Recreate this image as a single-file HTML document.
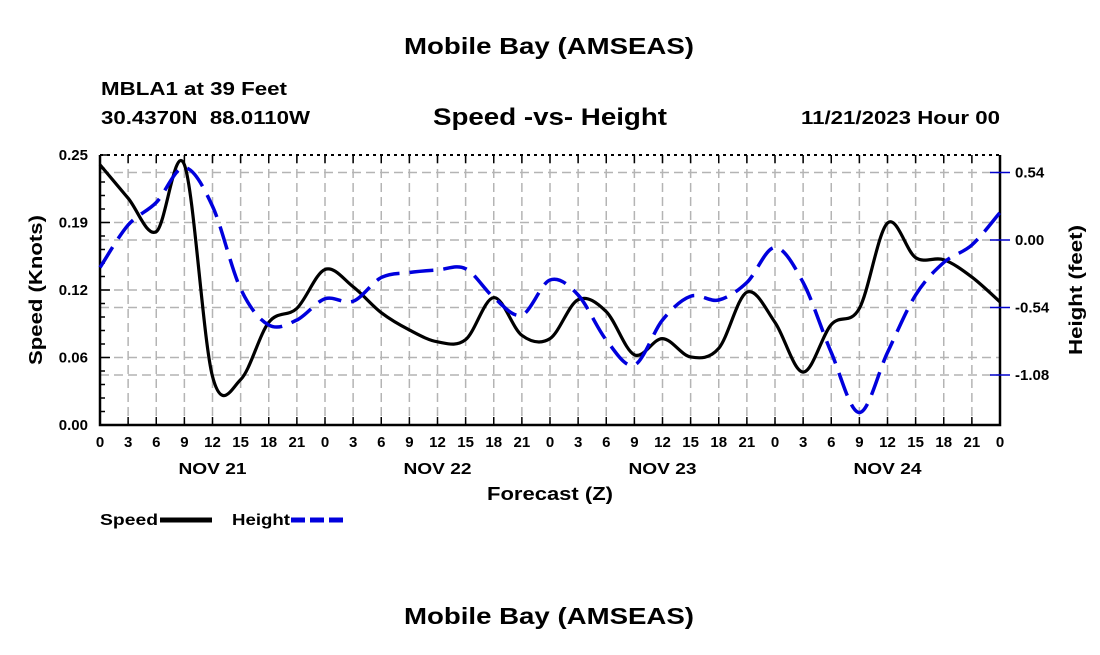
<!DOCTYPE html>
<html><head><meta charset="utf-8">
<style>
html,body{margin:0;padding:0;background:#fff;}
svg text{font-family:"Liberation Sans",Arial,sans-serif;font-weight:bold;fill:#000;}
</style></head>
<body>
<svg width="1100" height="650" viewBox="0 0 1100 650" xmlns="http://www.w3.org/2000/svg">
<rect width="1100" height="650" fill="#fff"/>
<text x="404" y="54" font-size="23" textLength="290" lengthAdjust="spacingAndGlyphs">Mobile Bay (AMSEAS)</text>
<text x="101" y="95" font-size="18" textLength="186" lengthAdjust="spacingAndGlyphs">MBLA1 at 39 Feet</text>
<text x="101" y="124" font-size="18" textLength="209" lengthAdjust="spacingAndGlyphs" xml:space="preserve">30.4370N  88.0110W</text>
<text x="433" y="125" font-size="24" textLength="234" lengthAdjust="spacingAndGlyphs">Speed -vs- Height</text>
<text x="801" y="124" font-size="18" textLength="199" lengthAdjust="spacingAndGlyphs">11/21/2023 Hour 00</text>
<g id="grid"></g>
<g id="axes"></g>
<g id="series"></g>
<text transform="translate(42,290) rotate(-90)" font-size="18" text-anchor="middle" textLength="150" lengthAdjust="spacingAndGlyphs">Speed (Knots)</text>
<text transform="translate(1082,290) rotate(-90)" font-size="18" text-anchor="middle" textLength="130" lengthAdjust="spacingAndGlyphs">Height (feet)</text>
<text x="487" y="500" font-size="18" textLength="126" lengthAdjust="spacingAndGlyphs">Forecast (Z)</text>
<g>
<text x="100" y="525" font-size="16" textLength="58" lengthAdjust="spacingAndGlyphs">Speed</text>
<line x1="160" y1="520" x2="212" y2="520" stroke="#000" stroke-width="5"/>
<text x="232" y="525" font-size="16" textLength="58" lengthAdjust="spacingAndGlyphs">Height</text>
<line x1="291" y1="520" x2="343" y2="520" stroke="#0000dd" stroke-width="5" stroke-dasharray="14,5"/>
</g>
<text x="404" y="624" font-size="23" textLength="290" lengthAdjust="spacingAndGlyphs">Mobile Bay (AMSEAS)</text>
</svg>
<script>
const hours = [0,3,6,9,12,15,18,21,24,27,30,33,36,39,42,45,48,51,54,57,60,63,66,69,72,75,78,81,84,87,90,93,96];
const speedValues = [0.241,0.210,0.179,0.241,0.045,0.042,0.095,0.108,0.144,0.128,0.104,0.088,0.077,0.079,0.118,0.083,0.080,0.116,0.105,0.065,0.080,0.063,0.071,0.123,0.095,0.049,0.093,0.108,0.187,0.155,0.153,0.137,0.114];
const heightValues = [-0.22,0.12,0.30,0.58,0.27,-0.39,-0.68,-0.64,-0.47,-0.49,-0.30,-0.26,-0.24,-0.23,-0.46,-0.60,-0.32,-0.44,-0.80,-1.00,-0.64,-0.45,-0.48,-0.34,-0.06,-0.34,-0.90,-1.38,-0.90,-0.44,-0.18,-0.04,0.22];
const speedTicks = [0,0.0625,0.125,0.1875,0.25];
const speedTickLabels = ["0.00","0.06","0.12","0.19","0.25"];
const heightTicks = [0.54,0,-0.54,-1.08];
const heightTickLabels = ["0.54","0.00","-0.54","-1.08"];
const xTickLabels = ["0","3","6","9","12","15","18","21"];
const dayLabels = ["NOV 21","NOV 22","NOV 23","NOV 24"];

(function(){
const L=100,R=1000,T=155,B=425;
const NS="http://www.w3.org/2000/svg";
function xS(h){return L+(h/96)*(R-L);}
function yS(v){return B-(v/0.25)*(B-T);}
function yH(v){return 240-(v/0.54)*67.5;}
function mk(tag,attrs,parent){const e=document.createElementNS(NS,tag);for(const k in attrs)e.setAttribute(k,attrs[k]);parent.appendChild(e);return e;}
const gridG=document.getElementById('grid'),axesG=document.getElementById('axes'),seriesG=document.getElementById('series');
const gs={stroke:"#b4b4b4","stroke-width":1.5,"stroke-dasharray":"9,5"};
for(let h=3;h<96;h+=3){const l=mk('line',Object.assign({x1:xS(h),x2:xS(h),y1:T,y2:B},gs),gridG);

}
speedTicks.slice(1,-1).forEach(v=>{const l=mk('line',Object.assign({x1:L,x2:R,y1:yS(v),y2:yS(v)},gs),gridG);

});
heightTicks.forEach(v=>{const l=mk('line',Object.assign({x1:L,x2:R,y1:yH(v),y2:yH(v)},gs),gridG);

});
const fr=mk('path',{d:`M${L},${T}V${B}H${R}V${T}`,fill:"none",stroke:"#000","stroke-width":2.5},axesG);


const topAxis=mk('line',{x1:L,x2:R,y1:T,y2:T,stroke:"#000","stroke-width":2,"stroke-dasharray":"3,4"},axesG);


for(let i=0;i<=32;i++){const h=i*3,x=xS(h);
mk('line',{x1:x,x2:x,y1:B,y2:B-8,stroke:"#000","stroke-width":1.5},axesG);
mk('line',{x1:x,x2:x,y1:T,y2:T+8,stroke:"#000","stroke-width":1.5},axesG);
const t=mk('text',{x:x,y:B+22,"font-size":15,"text-anchor":"middle"},axesG);
t.textContent=i===32?"0":xTickLabels[i%8];

}
dayLabels.forEach((d,i)=>{const t=mk('text',{x:xS(12+24*i)-34,y:474,"font-size":16,textLength:68,lengthAdjust:"spacingAndGlyphs"},axesG);
t.textContent=d;

});
for(let i=0;i<=20;i++){const v=i*0.0125,y=yS(v);mk('line',{x1:L,x2:L+(i%5===0?10:5),y1:y,y2:y,stroke:"#000","stroke-width":1.5},axesG);}
speedTicks.forEach((v,i)=>{const t=mk('text',{x:88,y:yS(v)+5,"font-size":15,"text-anchor":"end"},axesG);
t.textContent=speedTickLabels[i];

});
heightTicks.forEach((v,i)=>{mk('line',{x1:R-10,x2:R+10,y1:yH(v),y2:yH(v),stroke:"#0000cc","stroke-width":1.5},axesG);
const t=mk('text',{x:1015,y:yH(v)+5,"font-size":15},axesG);
t.textContent=heightTickLabels[i];

});
function smooth(pts){let d=`M${pts[0][0]},${pts[0][1]}`;
for(let i=0;i<pts.length-1;i++){const p0=pts[Math.max(0,i-1)],p1=pts[i],p2=pts[i+1],p3=pts[Math.min(pts.length-1,i+2)];
const c1=[p1[0]+(p2[0]-p0[0])/6,p1[1]+(p2[1]-p0[1])/6],c2=[p2[0]-(p3[0]-p1[0])/6,p2[1]-(p3[1]-p1[1])/6];
d+=`C${c1[0]},${c1[1]} ${c2[0]},${c2[1]} ${p2[0]},${p2[1]}`;}return d;}
const sp=mk('path',{d:smooth(hours.map((h,i)=>[xS(h),yS(speedValues[i])])),fill:"none",stroke:"#000","stroke-width":3.2},seriesG);


const hp=mk('path',{d:smooth(hours.map((h,i)=>[xS(h),yH(heightValues[i])])),fill:"none",stroke:"#0000dd","stroke-width":3.5,"stroke-dasharray":"24,10"},seriesG);


})();
</script>
</body></html>
